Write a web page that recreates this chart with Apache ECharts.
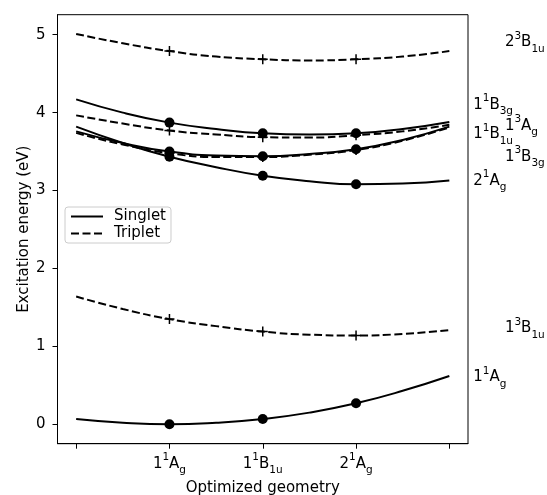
<!DOCTYPE html>
<html>
<head>
<meta charset="utf-8">
<script src="https://cdn.jsdelivr.net/npm/echarts@6/dist/echarts.min.js"></script>
<style>html,body{margin:0;padding:0;background:#fff;}#c{width:547px;height:495px;}</style>
</head>
<body>
<div id="c"></div>
<script>
// geometry positions along x (0 and 4 are unlabeled ends); curve values read every half step
const curveX = [0, 0.5, 1, 1.5, 2, 2.5, 3, 3.5, 4];
const tickX = [0, 1, 2, 3, 4];
// labelled geometries at x = 1, 2, 3 : [number, multiplicity, symmetry, subscript]
const geomTickX = [1, 2, 3];
const geomTickLabels = [['1','1','A','g'], ['1','1','B','1u'], ['2','1','A','g']];
const yTicks = [0, 1, 2, 3, 4, 5];

// singlet curves (values at curveX)
const s_1Ag  = [0.068, 0.02, 0.0, 0.02, 0.068, 0.15, 0.27, 0.43, 0.62];
const s_2Ag  = [3.82, 3.61, 3.435, 3.30, 3.19, 3.12, 3.08, 3.09, 3.13];
const s_1B1u = [3.76, 3.61, 3.50, 3.45, 3.44, 3.47, 3.53, 3.65, 3.82];
const s_1B3g = [4.17, 4.00, 3.872, 3.79, 3.735, 3.72, 3.735, 3.79, 3.88];
// triplet curves
const t_2B1u = [5.01, 4.89, 4.79, 4.72, 4.685, 4.67, 4.685, 4.72, 4.79];
const t_1B1u = [1.64, 1.48, 1.35, 1.26, 1.19, 1.15, 1.14, 1.16, 1.21];
const t_1Ag  = [3.965, 3.86, 3.77, 3.72, 3.685, 3.68, 3.71, 3.76, 3.845];
const t_1B3g = [3.74, 3.59, 3.48, 3.43, 3.43, 3.46, 3.52, 3.64, 3.81];

// state labels on the right: [number, multiplicity, symmetry, subscript], y value, column x
const labelParts = [['2','3','B','1u'], ['1','1','B','3g'], ['1','3','A','g'], ['1','1','B','1u'], ['1','3','B','3g'], ['2','1','A','g'], ['1','3','B','1u'], ['1','1','A','g']];
const labelY = [4.90, 4.10, 3.83, 3.72, 3.43, 3.12, 1.23, 0.60];
const labelX = [4.59, 4.25, 4.59, 4.25, 4.59, 4.25, 4.59, 4.25];

const singlets = [s_1Ag, s_2Ag, s_1B1u, s_1B3g];
const triplets = [t_2B1u, t_1B1u, t_1Ag, t_1B3g];

const FONT = 'DejaVu Sans';
const FS = 15;
function rich(p) { return '{n|' + p[0] + '}{sup|' + p[1] + '}{n|' + p[2] + '}{sub|' + p[3] + '}'; }
const richStyle = {
  n: {fontSize: FS, fontFamily: FONT, color: '#000', lineHeight: 24, verticalAlign: 'middle'},
  sup: {fontSize: 10.5, fontFamily: FONT, color: '#000', lineHeight: 22, verticalAlign: 'top'},
  sub: {fontSize: 10.5, fontFamily: FONT, color: '#000', lineHeight: 22, verticalAlign: 'bottom'}
};

const pts = arr => curveX.map((x, i) => [x, arr[i]]);
const markerPts = arr => geomTickX.map(x => [x, arr[curveX.indexOf(x)]]);

const series = [];
singlets.forEach(arr => {
  series.push({name: 'Singlet', type: 'line', data: pts(arr), smooth: true, symbol: 'none',
    lineStyle: {color: '#000', width: 2, type: 'solid'}, itemStyle: {color: '#000'}, z: 3});
  series.push({name: 'sdot', type: 'scatter', data: markerPts(arr), symbol: 'circle', symbolSize: 10,
    itemStyle: {color: '#000', opacity: 1}, z: 4});
});
triplets.forEach(arr => {
  series.push({name: 'Triplet', type: 'line', data: pts(arr), smooth: true, symbol: 'none',
    lineStyle: {color: '#000', width: 2, type: [8, 3.5]}, itemStyle: {color: '#000'}, z: 3});
  series.push({name: 'tplus', type: 'scatter', data: markerPts(arr),
    symbol: 'path://M5,0 L5,10 M0,5 L10,5', symbolSize: 10,
    itemStyle: {color: 'none', borderColor: '#000', borderWidth: 1.5, opacity: 1}, z: 4});
});
series.push({name: 'labels', type: 'scatter', clip: false, silent: true,
  data: labelY.map((y, i) => ({value: [labelX[i], y], parts: labelParts[i]})),
  symbolSize: 1, itemStyle: {color: 'rgba(0,0,0,0)', opacity: 1},
  label: {show: true, position: 'right', distance: 0, color: '#000', opacity: 1,
    formatter: p => rich(p.data.parts), rich: richStyle}});

const option = {
  animation: false,
  backgroundColor: '#fff',
  textStyle: {fontFamily: FONT},
  grid: {left: 57.5, top: 14.7, right: 79, bottom: 51.3, show: true, borderColor: '#000', borderWidth: 1,
    outerBoundsMode: 'none', containLabel: false},
  legend: {
    data: ['Singlet', 'Triplet'], orient: 'vertical', left: 65, top: 207,
    itemWidth: 32, itemHeight: 14, itemGap: 2, padding: [2, 5, 2, 5],
    borderColor: '#ccc', borderWidth: 1, borderRadius: 3, backgroundColor: 'rgba(255,255,255,0.8)',
    itemStyle: {opacity: 0},
    textStyle: {fontSize: FS, color: '#000', fontFamily: FONT, padding: [0, 0, 0, 6], lineHeight: 14}
  },
  xAxis: {
    type: 'value', min: -0.2, max: 4.2,
    name: 'Optimized geometry', nameLocation: 'middle', nameGap: 37, nameMoveOverlap: false,
    nameTextStyle: {fontSize: FS, color: '#000', fontFamily: FONT},
    axisLine: {show: true, onZero: false, lineStyle: {color: '#000', width: 1}},
    axisTick: {show: true, length: 5, lineStyle: {color: '#000'}, customValues: tickX},
    axisLabel: {show: true, margin: 8, customValues: geomTickX,
      formatter: v => { const i = geomTickX.indexOf(Math.round(v)); return i >= 0 ? rich(geomTickLabels[i]) : ''; },
      rich: richStyle},
    splitLine: {show: false}
  },
  yAxis: {
    type: 'value', min: -0.249, max: 5.257,
    name: 'Excitation energy (eV)', nameLocation: 'middle', nameGap: 26, nameMoveOverlap: false,
    nameTextStyle: {fontSize: FS, color: '#000', fontFamily: FONT},
    axisLine: {show: true, onZero: false, lineStyle: {color: '#000', width: 1}},
    axisTick: {show: true, length: 5, lineStyle: {color: '#000'}, customValues: yTicks},
    axisLabel: {show: true, margin: 12, fontSize: FS, color: '#000', fontFamily: FONT, customValues: yTicks},
    splitLine: {show: false}
  },
  series: series
};
echarts.init(document.getElementById('c')).setOption(option);
</script>
</body>
</html>
